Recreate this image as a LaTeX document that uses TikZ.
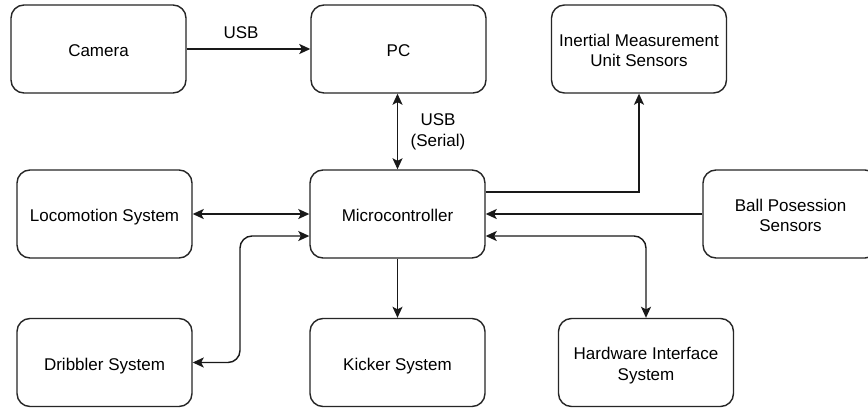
\documentclass[tikz,border=0pt]{standalone}
\usepackage{fontspec}
\setmainfont{Liberation Sans}
\usetikzlibrary{arrows.meta,calc}

\begin{document}
\begin{tikzpicture}[x=1pt,y=-1pt,
  block/.style={draw=black!85, line width=1.4pt, rounded corners=13pt,
    minimum width=175pt, minimum height=88pt, inner sep=0pt,
    align=center, font=\fontsize{17}{20.5}\selectfont},
  oneline/.style={text height=15.5pt, text depth=0.5pt},
  twoline/.style={text height=36pt, text depth=0.5pt},
  link/.style={line width=1.4pt, draw=black!90,
    -{Stealth[length=11pt,width=10pt,inset=2.5pt]}},
  dlink/.style={line width=1.4pt, draw=black!90,
    {Stealth[length=11pt,width=10pt,inset=2.5pt]}-{Stealth[length=11pt,width=10pt,inset=2.5pt]}},
  lbl/.style={font=\fontsize{17}{20.5}\selectfont, align=center, inner sep=0pt}]

  % page frame; the rightmost block runs past the edge
  \clip (0,0) rectangle (868,410);
  \fill[white] (0,0) rectangle (868,410);

  % blocks
  \node[block,oneline] (cam)   at (98.5,49)    {Camera};
  \node[block,oneline] (pc)    at (398.5,49)   {PC};
  \node[block,twoline] (imu)   at (639,49)     {Inertial Measurement\\Unit Sensors};
  \node[block,oneline] (loco)  at (104.5,214)  {Locomotion System};
  \node[block,oneline] (micro) at (397.5,214)  {Microcontroller};
  \node[block,twoline] (ball)  at (790.5,214)  {Ball Posession\\Sensors};
  \node[block,oneline] (drib)  at (104.5,362.5) {Dribbler System};
  \node[block,oneline] (kick)  at (397.5,362.5) {Kicker System};
  \node[block,twoline] (hw)    at (646,362.5)  {Hardware Interface\\System};

  % bend column of the dribbler link
  \coordinate (dcol) at (240,0);

  % connectors
  \draw[link] (cam.east) -- (pc.west);
  \node[lbl] (usb) at (241,33) {USB};

  \draw[dlink] (pc.south -| micro.north) -- (micro.north);
  \node[lbl] (serial) at (438,132) {USB\\(Serial)};

  \draw[link] ($(micro.east)+(0,-22)$) -| (imu.south);
  \draw[link] (ball.west) -- (micro.east);
  \draw[dlink, rounded corners=12pt] (hw.north) |- ($(micro.east)+(0,22)$);
  \draw[dlink] (loco.east) -- (micro.west);
  \draw[dlink, rounded corners=12pt] (drib.east) -- (drib.east -| dcol)
        |- ($(micro.west)+(0,22)$);
  \draw[link] (micro.south) -- (kick.north);
\end{tikzpicture}
\end{document}
